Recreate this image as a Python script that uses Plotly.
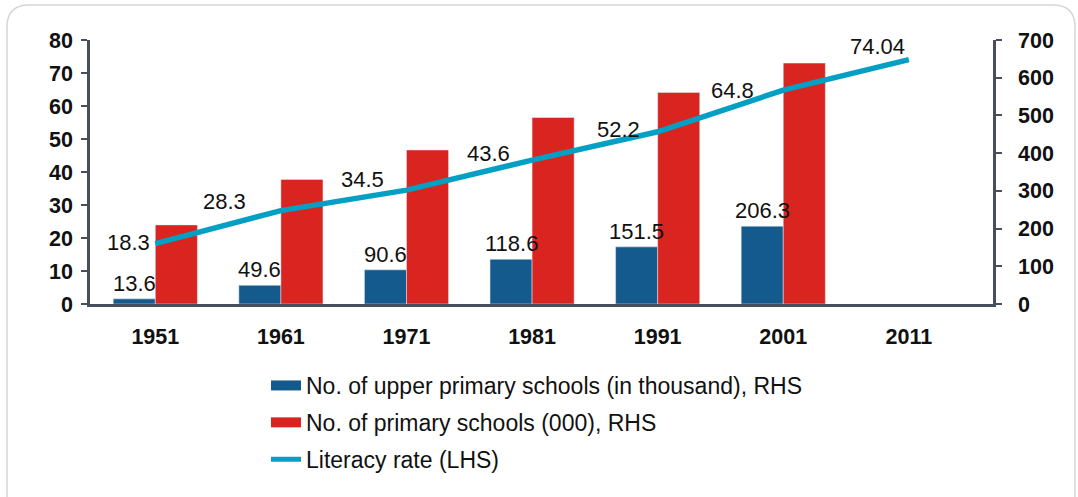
import plotly.graph_objects as go

# data
years = ["1951", "1961", "1971", "1981", "1991", "2001", "2011"]
upper_primary = [13.6, 49.6, 90.6, 118.6, 151.5, 206.3, None]   # thousand, RHS
primary = [209.7, 330.4, 408.4, 494.5, 560.9, 638.7, None]      # thousand, RHS
literacy = [18.3, 28.3, 34.5, 43.6, 52.2, 64.8, 74.04]          # %, LHS

# label nudges (px) for the literacy values, as placed in the original
lit_dx = [-27, -56, -44, -44, -39, -51, -31]
lit_dy = [1, 9, 11, 7, 2, 0, 13]

BLUE = "#145a8c"
RED = "#d92420"
TEAL = "#04a0c4"
AXIS = "#474f5c"
FONT = "Liberation Sans, Arial, sans-serif"

W, H = 1078, 497
ml, mr, mt, mb = 90, 85, 40, 193
pw, ph = W - ml - mr, H - mt - mb
x_range = [-0.52, 6.67]
bargap = 0.33
bar_px = (1 - bargap) / 2 * pw / (x_range[1] - x_range[0])

fig = go.Figure()

# bars live on the base axis (right, 0-700); the line sits on the overlay
fig.add_trace(
    go.Bar(
        x=years,
        y=upper_primary,
        name="No. of upper primary schools (in thousand), RHS",
        marker=dict(color=BLUE),
        yaxis="y",
        showlegend=False,
    )
)
fig.add_trace(
    go.Bar(
        x=years,
        y=primary,
        name="No. of primary schools (000), RHS",
        marker=dict(color=RED),
        yaxis="y",
        showlegend=False,
    )
)
fig.add_trace(
    go.Scatter(
        x=years,
        y=literacy,
        mode="lines",
        name="Literacy rate (LHS)",
        line=dict(color=TEAL, width=5.5),
        yaxis="y2",
        showlegend=False,
    )
)

# legend entries (wide swatches like the original)
for name, color, width in [
    ("No. of upper primary schools (in thousand), RHS", BLUE, 12),
    ("No. of primary schools (000), RHS", RED, 12),
    ("Literacy rate (LHS)", TEAL, 5),
]:
    fig.add_trace(
        go.Scatter(
            x=[None],
            y=[None],
            mode="lines",
            name=name,
            legendgroup=name,
            line=dict(color=color, width=width),
        )
    )

# category axis: place labels by index (numeric-looking category names)
for i, v in enumerate(upper_primary):
    if v is None:
        continue
    fig.add_annotation(
        x=i,
        y=v,
        yref="y",
        text=f"{v}",
        showarrow=False,
        xanchor="center",
        yanchor="bottom",
        xshift=-bar_px / 2,
        yshift=1,
        font=dict(size=22, color="#111111", family=FONT),
    )

for i, (v, dx, dy) in enumerate(zip(literacy, lit_dx, lit_dy)):
    fig.add_annotation(
        x=i,
        y=v,
        yref="y2",
        text=f"{v}",
        showarrow=False,
        xanchor="center",
        yanchor="middle",
        xshift=dx,
        yshift=dy,
        font=dict(size=22, color="#111111", family=FONT),
    )


# card border with rounded corners (paper coords)
def px(x):
    return (x - ml) / pw


def py(y):
    return (H - mb - y) / ph


x0, x1, y0, y1 = px(7), px(1075), py(5), py(530)
rx, ry = 22 / pw, 22 / ph
path = (
    f"M {x0},{y1} L {x0},{y0 - ry} Q {x0},{y0} {x0 + rx},{y0} "
    f"L {x1 - rx},{y0} Q {x1},{y0} {x1},{y0 - ry} L {x1},{y1}"
)
fig.add_shape(
    type="path",
    path=path,
    xref="paper",
    yref="paper",
    line=dict(color="#d6d6d6", width=1.5),
    layer="below",
)

tick_font = dict(size=21.5, color="#111111", family=FONT, weight="bold")
axis_common = dict(
    showline=True,
    linecolor=AXIS,
    linewidth=2.5,
    ticks="outside",
    ticklen=6,
    tickwidth=2,
    tickcolor=AXIS,
    showgrid=False,
    zeroline=False,
    tickfont=tick_font,
)

fig.update_layout(
    width=W,
    height=H,
    margin=dict(l=ml, r=mr, t=mt, b=mb, autoexpand=False),
    paper_bgcolor="white",
    plot_bgcolor="white",
    font=dict(family=FONT, color="#111111"),
    barmode="group",
    bargap=bargap,
    bargroupgap=0,
    xaxis=dict(
        type="category",
        range=x_range,
        showline=True,
        linecolor=AXIS,
        linewidth=2.5,
        ticks="",
        showgrid=False,
        tickfont=tick_font,
        ticklabelstandoff=11,
    ),
    yaxis=dict(
        range=[0, 700], dtick=100, side="right", ticklabelstandoff=12, **axis_common
    ),
    yaxis2=dict(
        range=[0, 80],
        dtick=10,
        overlaying="y",
        side="left",
        ticklabelstandoff=4,
        **axis_common,
    ),
    showlegend=True,
    legend=dict(
        x=px(266),
        y=py(364),
        xanchor="left",
        yanchor="top",
        orientation="v",
        font=dict(size=23, color="#111111", family=FONT),
        tracegroupgap=4,
        bgcolor="rgba(0,0,0,0)",
    ),
)

fig.write_html(
    "out.html",
    config={"displayModeBar": False},
    post_script="document.body.style.margin='0';",
)
